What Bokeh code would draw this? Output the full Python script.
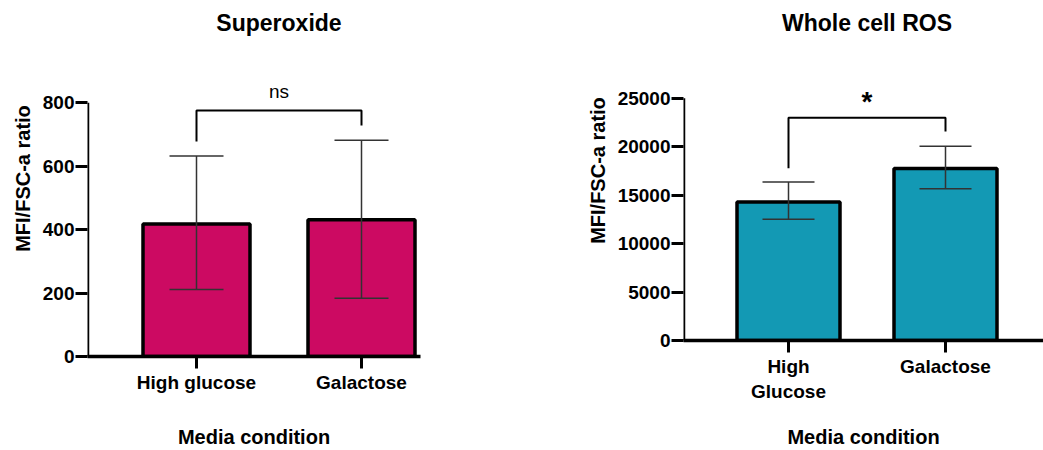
from bokeh.plotting import figure
from bokeh.layouts import row
from bokeh.models import FixedTicker, Range1d, Label, ColumnDataSource
from bokeh.embed import file_html
from bokeh.resources import INLINE

# ---- data ----
sup_categories = ["High glucose", "Galactose"]
sup_means = [418, 431]
sup_upper = [632, 682]
sup_lower = [211, 184]
sup_ticks = [0, 200, 400, 600, 800]
sup_sig = "ns"

ros_categories = ["High\nGlucose", "Galactose"]
ros_means = [14300, 17750]
ros_upper = [16350, 20050]
ros_lower = [12500, 15650]
ros_ticks = [0, 5000, 10000, 15000, 20000, 25000]
ros_sig = "*"

FONT = "Liberation Sans"


def make_panel(title, cats, means, upper, lower, ticks, sig, color,
               width, border_left, border_right, frame_w, x_start, x_end,
               y_end, bottom_border, bar_w, cap_w, br_y, br_left, br_right,
               sig_y, title_y, label_standoff, sig_bold, sig_size):
    frame_h = 450 - bottom_border
    p = figure(width=width, height=450, output_backend="svg", toolbar_location=None,
               x_range=Range1d(x_start, x_end), y_range=Range1d(0, y_end),
               min_border_left=border_left, min_border_right=border_right,
               min_border_top=0, min_border_bottom=bottom_border,
               frame_width=frame_w, frame_height=frame_h)
    p.outline_line_color = None
    p.grid.visible = False
    p.background_fill_color = "white"
    p.border_fill_color = "white"
    xs = list(range(len(cats)))
    src = ColumnDataSource(dict(x=xs, top=means, up=upper, lo=lower))
    p.vbar(x="x", top="top", bottom=0, width=bar_w, source=src,
           fill_color=color, line_color="black", line_width=3.5)
    p.segment(x0="x", y0="lo", x1="x", y1="up", source=src, line_color="#333333", line_width=1.5)
    p.segment(x0=[x - cap_w / 2 for x in xs], y0=upper, x1=[x + cap_w / 2 for x in xs], y1=upper,
              line_color="#333333", line_width=1.5)
    p.segment(x0=[x - cap_w / 2 for x in xs], y0=lower, x1=[x + cap_w / 2 for x in xs], y1=lower,
              line_color="#333333", line_width=1.5)
    # significance bracket
    p.line(x=[xs[0], xs[0], xs[1], xs[1]], y=[br_left, br_y, br_y, br_right],
           line_color="black", line_width=2)
    p.add_layout(Label(x=(xs[0] + xs[1]) / 2, y=sig_y, text=sig, text_align="center",
                       text_baseline="middle", text_font=FONT, text_font_size=sig_size,
                       text_font_style="bold" if sig_bold else "normal", text_color="black"))
    # title
    p.add_layout(Label(x=(xs[0] + xs[1]) / 2, y=title_y, text=title, text_align="center",
                       text_baseline="middle", text_font=FONT, text_font_size="23px",
                       text_font_style="bold", text_color="black"))
    # y axis line from 0 to max tick
    p.segment(x0=[x_start], y0=[0], x1=[x_start], y1=[ticks[-1]], line_color="black", line_width=3.5)

    p.yaxis.ticker = FixedTicker(ticks=ticks)
    p.yaxis.axis_line_color = None
    p.yaxis.major_tick_out = 12
    p.yaxis.major_tick_in = 0
    p.yaxis.major_tick_line_width = 3
    p.yaxis.minor_tick_line_color = None
    p.yaxis.major_label_standoff = 1
    p.yaxis.major_label_text_font = FONT
    p.yaxis.major_label_text_font_style = "bold"
    p.yaxis.major_label_text_font_size = "19px"
    p.yaxis.major_label_text_color = "black"
    p.yaxis.axis_label = "MFI/FSC-a ratio"
    p.yaxis.axis_label_text_font = FONT
    p.yaxis.axis_label_text_font_style = "bold"
    p.yaxis.axis_label_text_font_size = "20px"
    p.yaxis.axis_label_standoff = label_standoff
    p.yaxis.axis_label_text_color = "black"

    p.xaxis.ticker = FixedTicker(ticks=xs)
    p.xaxis.major_label_overrides = {x: c for x, c in zip(xs, cats)}
    p.xaxis.axis_line_width = 3.5
    p.xaxis.axis_line_color = "black"
    p.xaxis.major_tick_out = 12
    p.xaxis.major_tick_in = 0
    p.xaxis.major_tick_line_width = 3
    p.xaxis.minor_tick_line_color = None
    p.xaxis.major_label_standoff = 3
    p.xaxis.major_label_text_font = FONT
    p.xaxis.major_label_text_font_style = "bold"
    p.xaxis.major_label_text_font_size = "19px"
    p.xaxis.major_label_text_color = "black"
    p.xaxis.axis_label = "Media condition"
    p.xaxis.axis_label_text_font = FONT
    p.xaxis.axis_label_text_font_style = "bold"
    p.xaxis.axis_label_text_font_size = "20px"
    p.xaxis.axis_label_text_color = "black"
    return p


# left: frame 87..420 px, bar centres at 196 & 361 px -> 165 px/unit
left_pxu = 165.0
left_ypx = (356 - 102.3) / 800.0
p1 = make_panel("Superoxide", sup_categories, sup_means, sup_upper, sup_lower, sup_ticks, sup_sig,
                "#CC0A62", 520, 87, 100, 333,
                -(196 - 87) / left_pxu, 1 + (420 - 361) / left_pxu,
                356 / left_ypx, 94, 107 / left_pxu, 54 / left_pxu,
                (356 - 110) / left_ypx, (356 - 141) / left_ypx, (356 - 125) / left_ypx,
                (356 - 91) / left_ypx, (356 - 22) / left_ypx, 6, False, "19px")
p1.xaxis.axis_label_standoff = 30

# right: frame 683..1043 px, bar centres at 788 & 945 px -> 157 px/unit
right_pxu = 157.0
right_ypx = (340 - 97.7) / 25000.0
p2 = make_panel("Whole cell ROS", ros_categories, ros_means, ros_upper, ros_lower, ros_ticks, ros_sig,
                "#1399B4", 523, 163, 0, 360,
                -(788 - 683) / right_pxu, 1 + (1043 - 945) / right_pxu,
                340 / right_ypx, 110, 103 / right_pxu, 52 / right_pxu,
                (340 - 117.3) / right_ypx, (340 - 167.7) / right_ypx, (340 - 131) / right_ypx,
                (340 - 101) / right_ypx, (340 - 22) / right_ypx, 6, True, "28px")
p2.xaxis.axis_label_standoff = 21

layout = row(p1, p2, spacing=0)
open("out.html", "w").write(file_html(layout, INLINE))
